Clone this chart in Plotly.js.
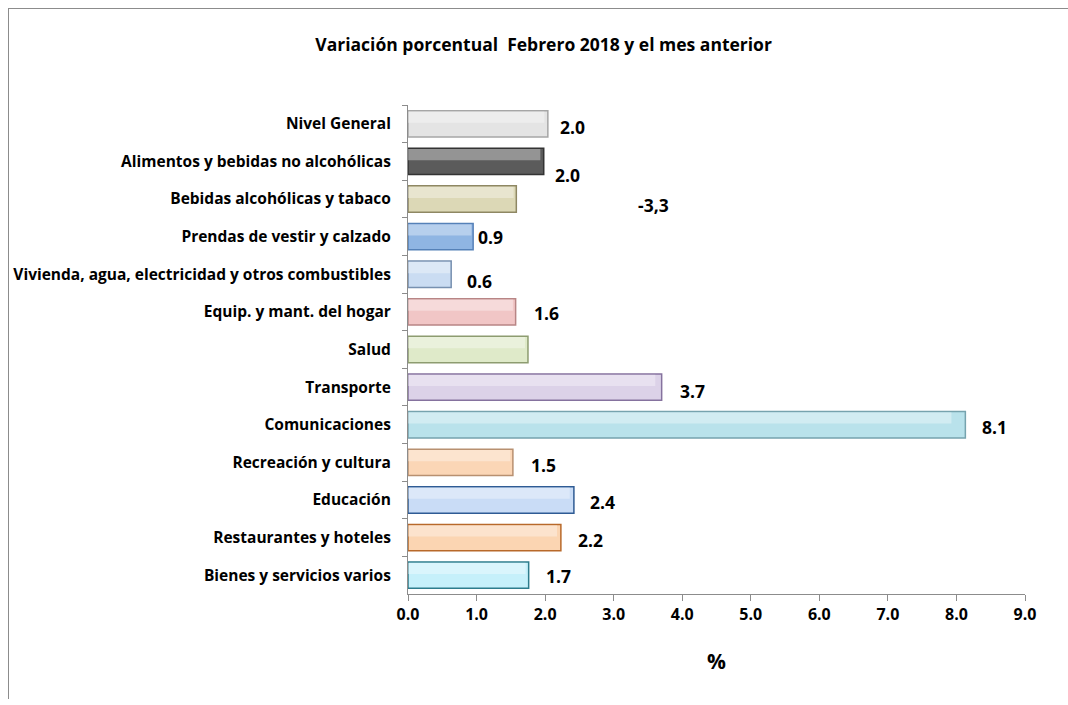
<!DOCTYPE html>
<html>
<head>
<meta charset="utf-8">
<script src="https://cdn.plot.ly/plotly-3.0.1.min.js"></script>
<style>
  html, body { margin: 0; padding: 0; background: #fff; }
  #chart { position: absolute; left: 0; top: 0; width: 1068px; height: 705px; }
  #frame { position: absolute; left: 8px; top: 8px; width: 1070px; height: 690px;
           border-left: 1px solid #8c8c8c; border-top: 1px solid #8c8c8c; pointer-events: none; }
</style>
</head>
<body>
<div id="chart"></div>
<div id="frame"></div>
<script>
// ---- data ----
const categories = [
  "Nivel General",
  "Alimentos y bebidas no alcohólicas",
  "Bebidas alcohólicas y tabaco",
  "Prendas de vestir y calzado",
  "Vivienda, agua, electricidad y otros combustibles",
  "Equip. y mant. del hogar",
  "Salud",
  "Transporte",
  "Comunicaciones",
  "Recreación y cultura",
  "Educación",
  "Restaurantes y hoteles",
  "Bienes y servicios varios"
];
const values = [2.04, 1.98, 1.58, 0.95, 0.63, 1.57, 1.75, 3.70, 8.13, 1.53, 2.42, 2.23, 1.76];
const valueLabels = ["2.0", "2.0", "-3,3", "0.9", "0.6", "1.6", "", "3.7", "8.1", "1.5", "2.4", "2.2", "1.7"];
const xTicks = [0, 1, 2, 3, 4, 5, 6, 7, 8, 9];
const xTickLabels = ["0.0", "1.0", "2.0", "3.0", "4.0", "5.0", "6.0", "7.0", "8.0", "9.0"];

// ---- styles ----
const fillColors = ["#e4e4e4", "#5b5b5b", "#dcd8b6", "#8fb5e3", "#cadcf2", "#f1c6c6", "#dfeac9",
                    "#dcd2e8", "#b9e2eb", "#fbd6b6", "#c9dcf6", "#fbd5b2", "#c6f0fa"];
const lineColors = ["#a6a6a6", "#333333", "#8e8763", "#5581b8", "#7790b0", "#b88585", "#8d9c70",
                    "#85729e", "#76a3ae", "#b89070", "#2f5b94", "#b8692a", "#2d7c8c"];
const labelDx = [10, 9, 120, 3, 14, 16, 15, 16, 15, 16, 14, 15, 15];
const labelDy = [3, 14, 6, 0, 7, 1, 0, 4, 2, 3, 2, 2, 1];

const font = "'Open Sans', 'Noto Sans', sans-serif";

const mainBars = {
  type: "bar",
  orientation: "h",
  y: categories,
  x: values,
  width: 0.7,
  marker: { color: fillColors, line: { color: lineColors, width: 1.5 } },
  hoverinfo: "x+y"
};
const highlight = {
  type: "bar",
  orientation: "h",
  y: categories,
  x: values.map(v => v * 0.975),
  width: 0.3,
  offset: -0.33,
  marker: { color: "rgba(255,255,255,0.35)", line: { width: 0 } },
  hoverinfo: "skip"
};

const annotations = categories.map((c, i) => ({
  x: values[i], y: c, xref: "x", yref: "y",
  text: valueLabels[i], showarrow: false,
  xanchor: "left", yanchor: "middle",
  xshift: labelDx[i], yshift: -labelDy[i],
  font: { family: font, size: 17.5, color: "#000", weight: 700 }
}));

const layout = {
  width: 1068, height: 705,
  margin: { l: 408, r: 43, t: 105, b: 111 },
  paper_bgcolor: "#fff", plot_bgcolor: "#fff",
  showlegend: false,
  barmode: "overlay",
  title: {
    text: "<b>Variación porcentual  Febrero 2018 y el mes anterior</b>",
    x: 0.509, xanchor: "center", y: 0.936, yanchor: "middle",
    font: { family: font, size: 17.5, color: "#000" }
  },
  xaxis: {
    range: [0, 9], tickvals: xTicks, ticktext: xTickLabels,
    showgrid: false, zeroline: false,
    showline: true, linecolor: "#8c8c8c", linewidth: 1,
    ticks: "outside", ticklen: 6, tickcolor: "#8c8c8c",
    tickfont: { family: font, size: 16, color: "#000", weight: 700 },
    title: { text: "<b>%</b>", font: { family: font, size: 21, color: "#000" }, standoff: 30 }
  },
  yaxis: {
    type: "category", autorange: "reversed",
    showgrid: false, zeroline: false,
    showline: true, linecolor: "#8c8c8c", linewidth: 1,
    ticks: "outside", ticklen: 5, tickcolor: "#8c8c8c", tickson: "boundaries",
    tickfont: { family: font, size: 15.5, color: "#000", weight: 700 },
    ticklabelstandoff: 13
  },
  annotations: annotations
};

Plotly.newPlot("chart", [mainBars, highlight], layout, { displayModeBar: false, staticPlot: true });
</script>
</body>
</html>
